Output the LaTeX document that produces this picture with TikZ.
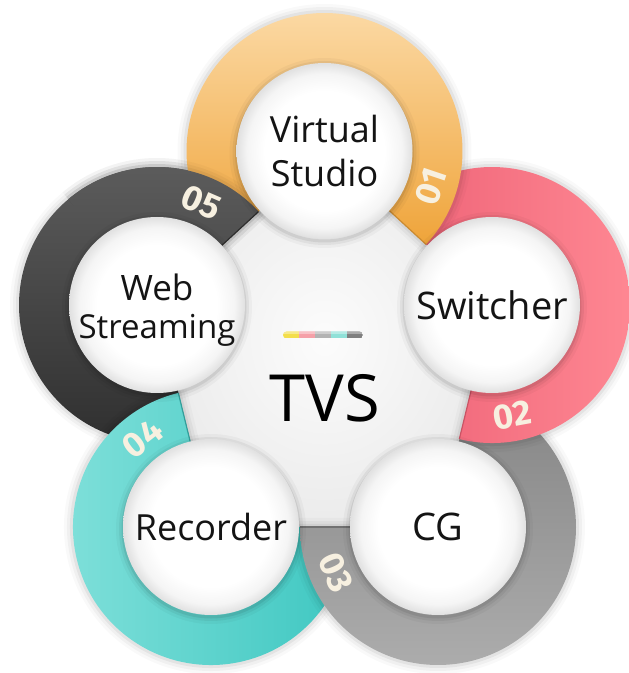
\documentclass[tikz,border=0pt]{standalone}
\usepackage{fontspec}
\setmainfont{Open Sans}
\newfontfamily\numfont{Fira Sans}
\usetikzlibrary{calc}
\definecolor{bgin}{HTML}{FCFCFC}
\definecolor{bgout}{HTML}{EBEBEB}
\definecolor{orA}{HTML}{FCDCAA}
\definecolor{orB}{HTML}{EFA43A}
\definecolor{pkA}{HTML}{EE6276}
\definecolor{pkB}{HTML}{FF8994}
\definecolor{gyA}{HTML}{858585}
\definecolor{gyB}{HTML}{ACACAC}
\definecolor{tlA}{HTML}{80E0DA}
\definecolor{tlB}{HTML}{3EC7C1}
\definecolor{dkA}{HTML}{5E5E5E}
\definecolor{dkB}{HTML}{2E2E2E}
\definecolor{numcol}{HTML}{F7F0E0}
\definecolor{barY}{HTML}{F3DE4B}
\definecolor{barP}{HTML}{F5A0A8}
\definecolor{barG}{HTML}{B3B3B3}
\definecolor{barT}{HTML}{90E1D8}
\definecolor{barD}{HTML}{7F7F7F}
\pgfdeclareradialshading{btnshade}{\pgfpoint{0bp}{0bp}}{color(0bp)=(white); color(17bp)=(white); color(22bp)=(black!4); color(25bp)=(black!12); color(50bp)=(black!12)}
\def\ringout{138}
\def\ringin{86}
\newcommand\ringfill[4]{\path[#4] ($(#1)+(#2:\ringout)$) arc[start angle=#2, end angle=#3, radius=\ringout] -- ($(#1)+(#3:\ringin)$) arc[start angle=#3, end angle=#2, radius=\ringin] -- cycle;}
\newcommand\ringshadow[3]{\foreach \w/\o in {18/0.025,12/0.035,6/0.05}{\draw[line width=\w, draw opacity=\o, black, line join=round] ($(#1)+(#2:\ringin)$) -- ($(#1)+(#2:\ringout)$) arc[start angle=#2, end angle=#3, radius=\ringout];}}
\newcommand\ringedge[3]{\draw[#3, line width=1.2pt] ($(#1)+(#2:\ringin)$) -- ($(#1)+(#2:\ringout)$);}
\tikzset{
  btn/.style={shade, shading=btnshade},
  lbl/.style={text=black!92, align=center, inner sep=0pt},
  numlbl/.style={font=\numfont\bfseries\fontsize{35}{35}\selectfont, text=numcol, inner sep=0pt}
}
\begin{document}
\begin{tikzpicture}[x=1pt,y=1pt]
\useasboundingbox (0,0) rectangle (629,673);
\fill[white] (0,0) rectangle (629,673);
\coordinate (V) at (324.5,522);
\coordinate (P) at (492,368);
\coordinate (G) at (438,146);
\coordinate (R) at (211,146);
\coordinate (W) at (157,368);
% central area
\path[shade, inner color=bgin, outer color=bgout] (V) -- (P) -- (G) -- (R) -- (W) -- cycle;
% ring 5 (dark)
\ringshadow{W}{42.6}{283.7}
\ringfill{W}{42.6}{283.7}{top color=dkA, bottom color=dkB}
% ring 4 (teal)
\ringshadow{R}{103.7}{360}
\ringfill{R}{103.7}{360}{left color=tlA, right color=tlB}
\ringedge{R}{103.7}{tlB!80!black}
% ring 3 (gray)
\ringshadow{G}{180}{436.3}
\ringfill{G}{180}{436.3}{top color=gyA, bottom color=gyB}
\ringedge{G}{180}{gyA!85!black}
% ring 2 (pink)
\ringshadow{P}{256.3}{497.4}
\ringfill{P}{256.3}{497.4}{left color=pkA, right color=pkB}
\ringedge{P}{256.3}{pkA!85!black}
% ring 1 (orange)
\ringshadow{V}{-42.6}{222.6}
\ringfill{V}{-42.6}{222.6}{top color=orA, bottom color=orB}
\ringedge{V}{-42.6}{orB!85!black}
% ring 5 end piece on top of ring 1
\ringshadow{W}{42.6}{130}
\begin{scope}
\clip (W) -- ($(W)+(42.6:200)$) arc[start angle=42.6, end angle=130, radius=200] -- cycle;
\ringfill{W}{42.6}{283.7}{top color=dkA, bottom color=dkB}
\end{scope}
\ringedge{W}{42.6}{dkB}
% number labels
\node[numlbl, rotate=71.4] (n1) at ($(V)+(-18.6:112)$) {01};
\node[numlbl, rotate=10.3] (n2) at ($(P)+(280.3:112)$) {02};
\node[numlbl, rotate=-66] (n3) at ($(G)+(204:112)$) {03};
\node[numlbl, rotate=37.7] (n4) at ($(R)+(127.7:112)$) {04};
\node[numlbl, rotate=-23.4] (n5) at ($(W)+(66.6:112)$) {05};
% shadows of white circles
\foreach \c in {V,P,G,R,W}{
  \foreach \w/\o in {14/0.03,8/0.05,3/0.07}{
    \draw[line width=\w, draw opacity=\o, black] ($(\c)+(0,-2)$) circle[radius=88];
  }
}
% white circles
\foreach \c in {V,P,G,R,W}{
  \path[btn] (\c) circle[radius=88];
}
% circle texts
\node[lbl, font=\fontsize{36}{44}\selectfont] (vs) at (V) {Virtual\\Studio};
\node[lbl, font=\fontsize{38}{44}\selectfont] (sw) at (P) {Switcher};
\node[lbl, font=\fontsize{38}{44}\selectfont] (cg) at (G) {CG};
\node[lbl, font=\fontsize{36}{44}\selectfont] (rc) at (R) {Recorder};
\node[lbl, font=\fontsize{33}{38}\selectfont] (ws) at ($(W)+(0,-5)$) {{\fontsize{35}{38}\selectfont Web}\\Streaming};
% colour bar
\begin{scope}
\clip[rounded corners=3.5pt] (283,334.5) rectangle (363,341.5);
\fill[barY] (283,334.5) rectangle (299,341.5);
\fill[barP] (299,334.5) rectangle (315,341.5);
\fill[barG] (315,334.5) rectangle (331,341.5);
\fill[barT] (331,334.5) rectangle (347,341.5);
\fill[barD] (347,334.5) rectangle (363,341.5);
\fill[white, opacity=0.35] (283,339) rectangle (363,341.5);
\end{scope}
% title
\node[font=\fontsize{65}{65}\selectfont, anchor=base, inner sep=0pt, text=black] (tvs) at (325,251) {TVS};
\end{tikzpicture}
\end{document}
